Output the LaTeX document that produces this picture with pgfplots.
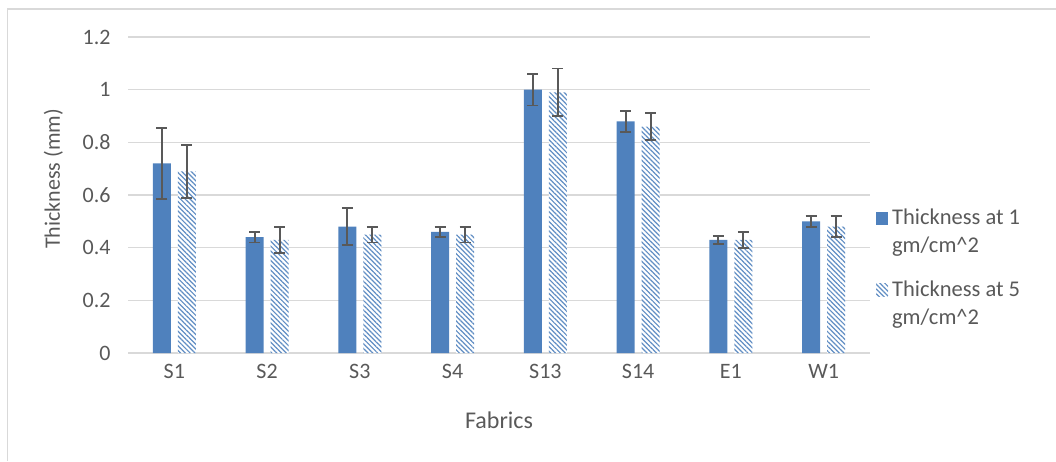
\documentclass[border=0pt]{standalone}
\usepackage{pgfplots}
\pgfplotsset{compat=1.18}
\usepackage{fontspec}
\setmainfont{Carlito}
\usetikzlibrary{patterns.meta}
\definecolor{txt}{HTML}{595959}
\definecolor{grd}{HTML}{D9D9D9}
\definecolor{barblue}{HTML}{4F81BD}
\begin{document}
\begin{tikzpicture}
\useasboundingbox (0,0) rectangle (1056pt,461pt);
\draw[grd, line width=1.5pt] (7.5pt,0) -- (7.5pt,452pt) -- (1056pt,452pt);
\begin{axis}[
  at={(128pt,108pt)}, anchor=south west,
  scale only axis, width=742pt, height=316pt,
  ybar=7pt, bar width=18pt,
  xmin=-0.5, xmax=7.5, ymin=0, ymax=1.2,
  xtick=data, xticklabels={S1,S2,S3,S4,S13,S14,E1,W1},
  ytick={0,0.2,0.4,0.6,0.8,1,1.2},
  /pgf/number format/fixed, /pgf/number format/precision=1,
  /pgf/number format/assume math mode=true,
  ymajorgrids, grid style={grd, line width=1.3pt},
  axis x line*=bottom, axis y line*=left,
  x axis line style={grd, line width=1.6pt, -},
  y axis line style={draw=none},
  major tick length=0pt,
  tick label style={font=\fontsize{22}{26}\selectfont, text=txt},
  yticklabel style={xshift=-14pt},
  xticklabel style={yshift=-8pt},
  xlabel={Fabrics}, ylabel={Thickness (mm)},
  xlabel style={at={(axis description cs:0.5,0)}, anchor=base, yshift=-75pt, font=\fontsize{24}{28}\selectfont, text=txt},
  ylabel style={at={(axis description cs:0,0.551)}, anchor=base, yshift=68pt, font=\fontsize{22}{26}\selectfont, text=txt},
  legend style={at={(rel axis cs:1.008,0.468)}, anchor=north west, draw=none, fill=none, inner sep=0pt,
    font=\fontsize{22.5}{28}\selectfont, text=txt, row sep=50pt, column sep=4pt,
    nodes={anchor=base west, inner sep=0pt}},
  legend image code/.code={\path[#1, draw=none] (0pt,0pt) rectangle (12pt,13pt);},
  error bars/y dir=both, error bars/y explicit,
  error bars/error bar style={color=txt, line width=1.8pt},
  error bars/error mark options={rotate=90, mark size=5.5pt, line width=1.8pt, color=txt},
]
\addplot[fill=barblue, draw=none] coordinates {
  (0,0.72) +- (0,0.135)
  (1,0.44) +- (0,0.02)
  (2,0.48) +- (0,0.07)
  (3,0.46) +- (0,0.02)
  (4,1.00) +- (0,0.06)
  (5,0.88) +- (0,0.04)
  (6,0.43) +- (0,0.015)
  (7,0.50) +- (0,0.02)
};
\addlegendentry{\begin{tabular}[t]{@{}l@{}}Thickness at 1\\gm/cm\^{}2\end{tabular}}
\addplot[fill=white, draw=none, postaction={pattern={Lines[angle=-45,distance=3.4pt,line width=1.2pt]}, pattern color=barblue!90}] coordinates {
  (0,0.69) +- (0,0.10)
  (1,0.43) +- (0,0.05)
  (2,0.45) +- (0,0.03)
  (3,0.45) +- (0,0.03)
  (4,0.99) +- (0,0.09)
  (5,0.86) +- (0,0.05)
  (6,0.43) +- (0,0.03)
  (7,0.48) +- (0,0.04)
};
\addlegendentry{\begin{tabular}[t]{@{}l@{}}Thickness at 5\\gm/cm\^{}2\end{tabular}}
\end{axis}
\end{tikzpicture}
\end{document}
